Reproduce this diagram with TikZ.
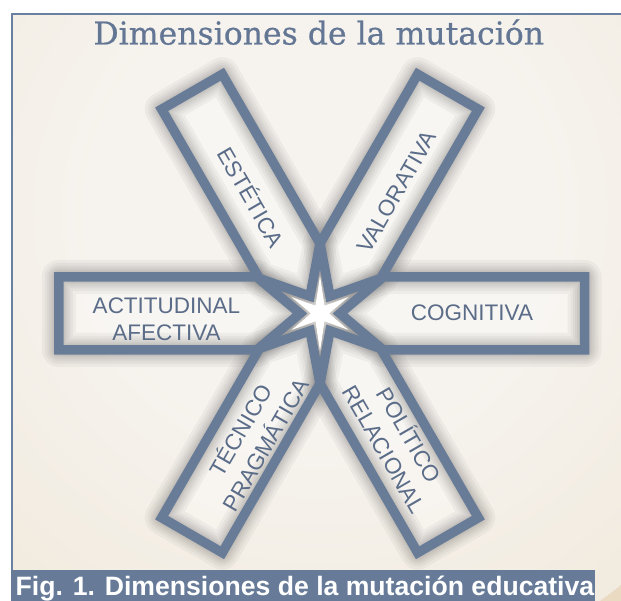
\documentclass[tikz,border=0pt]{standalone}
\usepackage{fontspec}
\setmainfont{Liberation Sans}
\newfontfamily\titlefont[FakeBold=0.6]{DejaVu Serif}
\definecolor{slate}{RGB}{104,124,151}
\definecolor{barblue}{RGB}{103,123,153}
\definecolor{txtblue}{RGB}{90,108,136}
\definecolor{titleblue}{RGB}{99,118,148}
\definecolor{bgin}{RGB}{246,243,238}
\definecolor{bgout}{RGB}{233,218,193}
\definecolor{framecol}{RGB}{106,128,160}
\pgfdeclareradialshading{bgrad}{\pgfpoint{0bp}{0bp}}{color(0bp)=(bgin); color(12bp)=(bgin); color(50bp)=(bgout)}
\begin{document}
\begin{tikzpicture}[x=1pt,y=1pt,
  armline/.style={draw=slate, line width=9.5pt, line join=miter},
  armshadow/.style={draw=black!75, line join=round, opacity=0.05},
  armfill/.style={fill=white, fill opacity=0.3},
  lbl/.style={font=\fontsize{22.5}{29}\selectfont, text=txtblue, inner sep=0pt, align=center},
  hlbl/.style={font=\fontsize{22.5}{27}\selectfont, text=txtblue, inner sep=0pt, align=center},
]
\useasboundingbox (0,0) rectangle (621,601);
\begin{scope}
\clip (12,0) rectangle (621,587);
\fill[bgout] (12,0) rectangle (621,587);
\shade[shading=bgrad] (320,390) circle (480);
\end{scope}
\draw[framecol, line width=2.5pt] (12,-5) -- (12,587) -- (630,587);

\coordinate (C) at (320,287.5);

% fills
\foreach \a/\L/\w in {0/264.5/36.5, 60/256/35, 120/256/35, 180/261.25/36.5, 240/256/35, 300/256/35} {
  \begin{scope}[shift={(C)}, rotate=\a]
    \path[armfill] (20,0) -- ({\w*1.732},\w) -- (\L,\w) -- (\L,-\w) -- ({\w*1.732},-\w) -- cycle;
  \end{scope}
}
% shadows
\foreach \a/\L/\w in {0/264.5/36.5, 60/256/35, 120/256/35, 180/261.25/36.5, 240/256/35, 300/256/35} {
  \begin{scope}[shift={(C)}, rotate=\a]
    \foreach \lw in {34,28,23,19,15,12}
      \draw[armshadow, line width=\lw pt] (20,0) -- ({\w*1.732},\w) -- (\L,\w) -- (\L,-\w) -- ({\w*1.732},-\w) -- cycle;
  \end{scope}
}
% star
\fill[white, shift={(C)}] (30:33) -- (60:9) -- (90:38) -- (120:9) -- (150:33) -- (180:9)
  -- (210:33) -- (240:9) -- (270:38) -- (300:9) -- (330:33) -- (0:9) -- cycle;
% borders
\foreach \a/\L/\w in {0/264.5/36.5, 60/256/35, 120/256/35, 180/261.25/36.5, 240/256/35, 300/256/35} {
  \begin{scope}[shift={(C)}, rotate=\a]
    \draw[armline] (20,0) -- ({\w*1.732},\w) -- (\L,\w) -- (\L,-\w) -- ({\w*1.732},-\w) -- cycle;
  \end{scope}
}

% labels
\node[hlbl] (act) at (166.5,282) {ACTITUDINAL\\AFECTIVA};
\node[hlbl] (cog) at (472,288.5) {COGNITIVA};
\node[lbl, rotate=-60] (est) at (252.3,404.3) {ESTÉTICA};
\node[lbl, rotate=60] (val) at (396.7,409.3) {VALORATIVA};
\node[lbl, rotate=60] (tec) at (252,164) {TÉCNICO\\PRAGMÁTICA};
\node[lbl, rotate=-60] (pol) at (398,159.7) {POLÍTICO\\RELACIONAL};

% title
\node[anchor=base, inner sep=0pt, text=titleblue, font=\titlefont\fontsize{31.5}{36}\selectfont] (title) at (318.75,556.5) {Dimensiones de la mutación};

% caption
\fill[barblue] (11,0) rectangle (595,31);
\node[anchor=base west, inner sep=0pt, text=white, font=\bfseries\fontsize{26.6}{30}\selectfont] (cap) at (15.5,5.5) {Fig. 1. Dimensiones de la mutación educativa};
\end{tikzpicture}
\end{document}
